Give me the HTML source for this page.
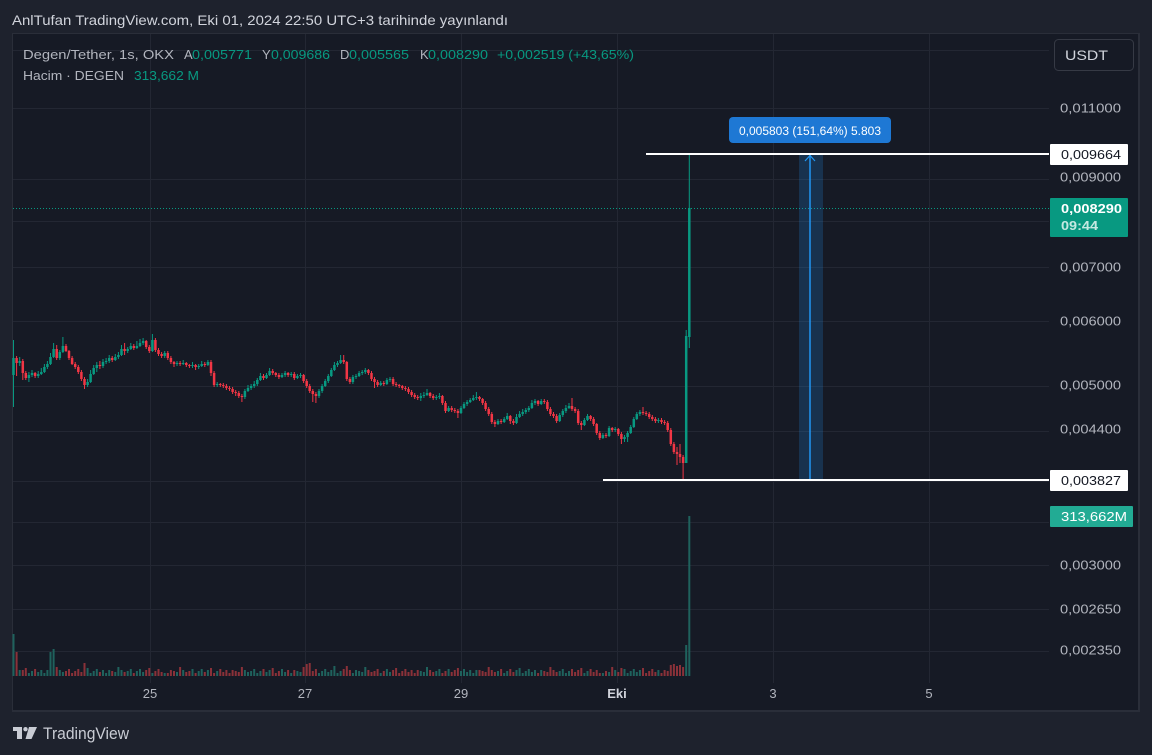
<!DOCTYPE html>
<html><head><meta charset="utf-8">
<style>
html,body{margin:0;padding:0;background:#1e222d;overflow:hidden;}
svg{display:block;}
text{font-family:"Liberation Sans",sans-serif;}
</style></head>
<body>
<svg width="1152" height="755" viewBox="0 0 1152 755" xmlns="http://www.w3.org/2000/svg">
<rect x="0" y="0" width="1152" height="755" fill="#1e222d"/>
<rect x="12" y="33" width="1128" height="679" fill="#2a2e39"/>
<rect x="13" y="34" width="1125" height="676" fill="#161a25"/>
<g stroke="#232733" stroke-width="1">
<line x1="13" y1="50.5" x2="1049" y2="50.5"/>
<line x1="13" y1="108.5" x2="1049" y2="108.5"/>
<line x1="13" y1="179.5" x2="1049" y2="179.5"/>
<line x1="13" y1="221.5" x2="1049" y2="221.5"/>
<line x1="13" y1="267.5" x2="1049" y2="267.5"/>
<line x1="13" y1="321.5" x2="1049" y2="321.5"/>
<line x1="13" y1="386.5" x2="1049" y2="386.5"/>
<line x1="13" y1="431.5" x2="1049" y2="431.5"/>
<line x1="13" y1="481.5" x2="1049" y2="481.5"/>
<line x1="13" y1="522.5" x2="1049" y2="522.5"/>
<line x1="13" y1="565.5" x2="1049" y2="565.5"/>
<line x1="13" y1="609.5" x2="1049" y2="609.5"/>
<line x1="13" y1="651.5" x2="1049" y2="651.5"/>
<line x1="150.5" y1="34" x2="150.5" y2="683"/>
<line x1="305.5" y1="34" x2="305.5" y2="683"/>
<line x1="461.5" y1="34" x2="461.5" y2="683"/>
<line x1="617.5" y1="34" x2="617.5" y2="683"/>
<line x1="773.5" y1="34" x2="773.5" y2="683"/>
<line x1="929.5" y1="34" x2="929.5" y2="683"/>
</g>

<!-- volume -->
<path fill="none" stroke="#1f625d" stroke-width="2" d="M13.5 676V634M19.7 676V670M28.9 676V673M32 676V671M38.2 676V672M41.3 676V670M44.4 676V673M47.4 676V670M50.5 676V652M53.6 676V649M59.8 676V670M62.9 676V672M87.6 676V668M90.6 676V673M93.7 676V671M96.8 676V669M103 676V670M106.1 676V673M109.2 676V670M115.3 676V672M118.4 676V667M121.5 676V670M127.7 676V671M130.8 676V669M136.9 676V671M140 676V669M143.1 676V672M152.4 676V673M164.7 676V673M177 676V672M183.2 676V670M192.5 676V669M198.7 676V671M201.7 676V669M207.9 676V670M217.2 676V671M244.9 676V670M248 676V672M251.1 676V671M254.2 676V669M257.3 676V673M260.4 676V671M266.5 676V672M269.6 676V670M282 676V669M285.1 676V672M291.2 676V673M297.4 676V671M300.5 676V672M319 676V673M322.1 676V671M325.2 676V669M328.3 676V672M331.3 676V670M334.4 676V666M337.5 676V673M340.6 676V671M352.9 676V673M356 676V670M359.1 676V671M362.2 676V672M365.3 676V667M380.7 676V673M386.9 676V669M390 676V672M420.8 676V671M423.9 676V672M427 676V667M436.3 676V671M439.4 676V669M448.6 676V669M461 676V671M464 676V669M467.1 676V672M470.2 676V670M473.3 676V673M476.4 676V670M498 676V671M504.2 676V673M507.2 676V671M516.5 676V670M519.6 676V668M522.7 676V673M525.8 676V671M528.8 676V669M531.9 676V672M535 676V670M541.2 676V670M559.7 676V671M562.8 676V669M565.9 676V673M569 676V671M584.4 676V673M587.5 676V671M602.9 676V673M609.1 676V672M615.2 676V670M624.5 676V669M627.6 676V673M630.7 676V671M633.8 676V669M636.8 676V672M639.9 676V670M658.4 676V670M686.2 676V645M689.3 676V516"/>
<path fill="none" stroke="#8a3139" stroke-width="2" d="M16.6 676V652M22.8 676V670M25.8 676V668M35.1 676V669M56.7 676V667M66 676V671M69 676V669M72.1 676V673M75.2 676V671M78.3 676V669M81.4 676V672M84.5 676V663M99.9 676V672M112.2 676V671M124.6 676V672M133.8 676V673M146.2 676V670M149.3 676V668M155.4 676V671M158.5 676V669M161.6 676V672M167.8 676V673M170.9 676V670M174 676V671M180.1 676V667M186.3 676V672M189.4 676V671M195.6 676V673M204.8 676V672M211 676V668M214.1 676V673M220.3 676V669M223.3 676V672M226.4 676V670M229.5 676V673M232.6 676V670M235.7 676V671M238.8 676V672M241.9 676V667M263.5 676V669M272.7 676V668M275.8 676V673M278.9 676V671M288.1 676V670M294.3 676V670M303.6 676V667M306.7 676V664M309.7 676V663M312.8 676V671M315.9 676V669M343.7 676V669M346.8 676V666M349.9 676V670M368.4 676V670M371.5 676V672M374.5 676V671M377.6 676V669M383.8 676V671M393.1 676V670M396.1 676V668M399.2 676V673M402.3 676V671M405.4 676V669M408.5 676V672M411.6 676V670M414.7 676V673M417.7 676V670M430.1 676V670M433.2 676V672M442.4 676V673M445.5 676V671M451.7 676V672M454.8 676V670M457.9 676V668M479.5 676V670M482.6 676V671M485.6 676V672M488.7 676V667M491.8 676V670M494.9 676V672M501.1 676V669M510.3 676V669M513.4 676V672M538.1 676V673M544.3 676V671M547.4 676V672M550.4 676V667M553.5 676V670M556.6 676V672M572 676V669M575.1 676V672M578.2 676V670M581.3 676V668M590.6 676V669M593.6 676V672M596.7 676V670M599.8 676V673M606 676V671M612.2 676V667M618.3 676V672M621.4 676V668M643 676V668M646.1 676V673M649.2 676V671M652.3 676V669M655.4 676V672M661.5 676V673M664.6 676V670M667.7 676V671M670.8 676V665M673.9 676V664M677 676V666M680 676V665M683.1 676V667"/>

<line x1="13" y1="208.5" x2="1049" y2="208.5" stroke="#089981" stroke-width="1" stroke-dasharray="1,2"/>

<!-- candle wicks -->
<path fill="none" stroke="#089981" stroke-width="1" d="M13.5 340V407M19.7 357V366M28.9 372V382M32 370V377M38.2 371V378M41.3 368V375M44.4 364V373M47.4 361V369M50.5 353V365M53.6 343V358M59.8 350V360M62.9 337V353M87.6 379V387M90.6 370V383M93.7 365V375M96.8 362V372M103 359V368M106.1 358V364M109.2 355V363M115.3 354V361M118.4 352V359M121.5 345V356M127.7 347V353M130.8 343V350M136.9 341V349M140 339V347M143.1 338V345M152.4 334V352M164.7 351V358M177 361V366M183.2 360V365M192.5 362V368M198.7 364V369M201.7 361V367M207.9 360V366M217.2 382V387M244.9 389V399M248 385V392M251.1 384V390M254.2 381V388M257.3 378V386M260.4 373V381M266.5 373V379M269.6 368V376M282 373V378M285.1 371V377M291.2 372V377M297.4 374V379M300.5 373V378M319 389V398M322.1 384V393M325.2 379V387M328.3 374V383M331.3 368V377M334.4 362V371M337.5 361V367M340.6 355V364M352.9 375V384M356 374V379M359.1 371V377M362.2 370V375M365.3 368V374M380.7 381V386M386.9 378V385M390 377V382M420.8 393V401M423.9 392V398M427 389V396M436.3 395V400M439.4 393V399M448.6 406V412M461 406V414M464 402V409M467.1 400V406M470.2 398V403M473.3 395V401M476.4 392V400M498 419V425M504.2 417V423M507.2 413V420M516.5 414V424M519.6 411V418M522.7 409V416M525.8 408V414M528.8 406V412M531.9 400V409M535 399V405M541.2 399V405M559.7 413V422M562.8 409V417M565.9 405V413M569 403V409M584.4 418V426M587.5 414V421M602.9 433V439M609.1 426V437M615.2 427V432M624.5 435V442M627.6 431V442M630.7 425V434M633.8 417V428M636.8 412V420M639.9 410V416M658.4 418V423M686.2 330V463M689.3 153V348"/>
<path fill="none" stroke="#f23645" stroke-width="1" d="M16.6 356V376M22.8 359V380M25.8 371V380M35.1 372V378M56.7 345V360M66 344V352M69 350V360M72.1 356V365M75.2 362V369M78.3 365V374M81.4 370V381M84.5 377V389M99.9 361V369M112.2 356V362M124.6 343V355M133.8 344V350M146.2 340V349M149.3 345V353M155.4 338V352M158.5 348V356M161.6 352V358M167.8 351V360M170.9 356V364M174 361V367M180.1 361V366M186.3 362V367M189.4 364V368M195.6 364V370M204.8 362V367M211 360V376M214.1 371V387M220.3 383V387M223.3 383V388M226.4 384V390M229.5 386V391M232.6 387V394M235.7 390V396M238.8 391V398M241.9 394V402M263.5 374V380M272.7 369V375M275.8 372V377M278.9 373V379M288.1 372V377M294.3 372V380M303.6 374V383M306.7 379V388M309.7 384V393M312.8 389V402M315.9 392V403M343.7 355V364M346.8 361V381M349.9 377V384M368.4 369V375M371.5 371V381M374.5 377V388M377.6 380V387M383.8 381V386M393.1 377V386M396.1 382V387M399.2 384V388M402.3 385V390M405.4 386V391M408.5 387V394M411.6 390V397M414.7 393V399M417.7 395V400M430.1 392V398M433.2 394V400M442.4 395V405M445.5 401V413M451.7 406V412M454.8 408V413M457.9 409V418M479.5 396V401M482.6 398V405M485.6 401V411M488.7 407V416M491.8 412V424M494.9 420V427M501.1 419V424M510.3 415V424M513.4 419V425M538.1 400V406M544.3 399V404M547.4 400V411M550.4 407V416M553.5 412V418M556.6 414V423M572 398V411M575.1 407V413M578.2 409V425M581.3 421V430M590.6 415V421M593.6 417V426M596.7 423V435M599.8 431V440M606 433V438M612.2 427V432M618.3 428V436M621.4 432V444M643 407V415M646.1 411V416M649.2 412V419M652.3 415V421M655.4 417V423M661.5 418V424M664.6 420V425M667.7 421V432M670.8 428V446M673.9 442V454M677 447V465M680 444V463M683.1 455V480"/>

<!-- candle bodies -->
<path fill="none" stroke="#089981" stroke-width="2.5" d="M13.5 358V375M19.7 361V363M28.9 375V378M32 373V375M38.2 374V376M41.3 372V374M44.4 367V372M47.4 364V367M50.5 357V364M53.6 349V357M59.8 352V358M62.9 346V352M87.6 382V385M90.6 374V382M93.7 368V374M96.8 365V368M103 362V366M106.1 361V362M109.2 358V361M115.3 357V360M118.4 355V357M121.5 349V355M127.7 349V351M130.8 346V349M136.9 346V348M140 343V346M143.1 341V343M152.4 340V351M164.7 353V356M177 363V364M183.2 363V364M192.5 365V366M198.7 366V367M201.7 364V366M207.9 362V365M217.2 384V385M244.9 391V397M248 388V391M251.1 386V388M254.2 384V386M257.3 380V384M260.4 376V380M266.5 375V378M269.6 371V375M282 375V377M285.1 373V375M291.2 374V375M297.4 376V378M300.5 375V376M319 391V396M322.1 386V391M325.2 381V386M328.3 376V381M331.3 370V376M334.4 365V370M337.5 363V365M340.6 360V363M352.9 377V382M356 376V377M359.1 373V376M362.2 372V373M365.3 370V372M380.7 383V385M386.9 380V384M390 379V380M420.8 396V398M423.9 395V396M427 393V395M436.3 397V398M439.4 396V397M448.6 408V411M461 408V413M464 404V408M467.1 402V404M470.2 400V402M473.3 398V400M476.4 397V398M498 421V424M504.2 419V422M507.2 416V419M516.5 417V423M519.6 414V417M522.7 412V414M525.8 410V412M528.8 408V410M531.9 403V408M535 401V403M541.2 401V404M559.7 415V421M562.8 411V415M565.9 408V411M569 406V408M584.4 420V425M587.5 416V420M602.9 435V438M609.1 428V436M615.2 429V430M624.5 437V439M627.6 433V437M630.7 427V433M633.8 419V427M636.8 414V419M639.9 412V414M658.4 420V421M686.2 336V463M689.3 208V337"/>
<path fill="none" stroke="#f23645" stroke-width="2.5" d="M16.6 358V363M22.8 361V373M25.8 373V378M35.1 373V376M56.7 349V358M66 346V351M69 351V358M72.1 358V364M75.2 364V367M78.3 367V372M81.4 372V379M84.5 379V385M99.9 365V366M112.2 358V360M124.6 349V351M133.8 346V348M146.2 341V347M149.3 347V351M155.4 340V350M158.5 350V354M161.6 354V356M167.8 353V358M170.9 358V362M174 362V364M180.1 363V364M186.3 363V365M189.4 365V366M195.6 365V367M204.8 364V365M211 362V373M214.1 373V385M220.3 384V385M223.3 385V386M226.4 386V388M229.5 388V389M232.6 389V392M235.7 392V393M238.8 393V396M241.9 396V397M263.5 376V378M272.7 371V373M275.8 373V375M278.9 375V377M288.1 373V375M294.3 374V378M303.6 375V381M306.7 381V386M309.7 386V391M312.8 391V394M315.9 394V396M343.7 360V362M346.8 362V379M349.9 379V382M368.4 370V373M371.5 373V379M374.5 379V382M377.6 382V385M383.8 383V384M393.1 379V384M396.1 384V385M399.2 385V386M402.3 386V388M405.4 388V389M408.5 389V392M411.6 392V395M414.7 395V397M417.7 397V398M430.1 393V396M433.2 396V398M442.4 396V403M445.5 403V411M451.7 408V410M454.8 410V411M457.9 411V413M479.5 397V399M482.6 399V403M485.6 403V409M488.7 409V414M491.8 414V422M494.9 422V424M501.1 421V422M510.3 416V421M513.4 421V423M538.1 401V404M544.3 401V402M547.4 402V409M550.4 409V414M553.5 414V416M556.6 416V421M572 406V409M575.1 409V411M578.2 411V423M581.3 423V425M590.6 416V419M593.6 419V424M596.7 424V433M599.8 433V438M606 435V436M612.2 428V430M618.3 429V434M621.4 434V439M643 412V413M646.1 413V414M649.2 414V417M652.3 417V419M655.4 419V421M661.5 420V422M664.6 422V423M667.7 423V430M670.8 430V444M673.9 444V452M677 452V454M680 454V457M683.1 457V463"/>

<!-- measurement -->
<rect x="799" y="154" width="24" height="326" fill="rgba(33,150,243,0.2)"/>
<line x1="810" y1="155" x2="810" y2="480" stroke="#2196f3" stroke-width="1.5"/>
<polyline points="805,161 810,155.5 815,161" fill="none" stroke="#2196f3" stroke-width="1.2"/>
<line x1="799" y1="480" x2="823" y2="480" stroke="#2196f3" stroke-width="2"/>
<rect x="646" y="153" width="403" height="2" fill="#ffffff"/>
<rect x="603" y="479" width="446" height="2" fill="#ffffff"/>
<rect x="729" y="117" width="162" height="26" rx="4" fill="#1e78d4"/>
<text x="739" y="135" font-size="11.5" fill="#ffffff" textLength="142" lengthAdjust="spacingAndGlyphs">0,005803 (151,64%) 5.803</text>

<!-- header -->
<text x="12" y="25" font-size="14" fill="#d1d4dc" textLength="496" lengthAdjust="spacingAndGlyphs">AnlTufan TradingView.com, Eki 01, 2024 22:50 UTC+3 tarihinde yayınlandı</text>

<!-- legend -->
<g font-size="13">
<text x="23" y="59" fill="#b2b5be" textLength="151" lengthAdjust="spacingAndGlyphs">Degen/Tether, 1s, OKX</text>
<text x="184" y="59" fill="#b2b5be">A</text>
<text x="192" y="59" fill="#089981" textLength="60" lengthAdjust="spacingAndGlyphs">0,005771</text>
<text x="262" y="59" fill="#b2b5be">Y</text>
<text x="271" y="59" fill="#089981" textLength="59" lengthAdjust="spacingAndGlyphs">0,009686</text>
<text x="340" y="59" fill="#b2b5be">D</text>
<text x="349" y="59" fill="#089981" textLength="60" lengthAdjust="spacingAndGlyphs">0,005565</text>
<text x="420" y="59" fill="#b2b5be">K</text>
<text x="428" y="59" fill="#089981" textLength="60" lengthAdjust="spacingAndGlyphs">0,008290</text>
<text x="497" y="59" fill="#089981" textLength="137" lengthAdjust="spacingAndGlyphs">+0,002519 (+43,65%)</text>
<text x="23" y="80" fill="#b2b5be" textLength="101" lengthAdjust="spacingAndGlyphs">Hacim · DEGEN</text>
<text x="134" y="80" fill="#089981" textLength="65" lengthAdjust="spacingAndGlyphs">313,662 M</text>
</g>

<!-- USDT button -->
<rect x="1054.5" y="39.5" width="79" height="31" rx="4" fill="#161a25" stroke="#363a45" stroke-width="1"/>
<text x="1065" y="60" font-size="14" fill="#d1d4dc" textLength="43" lengthAdjust="spacingAndGlyphs">USDT</text>

<!-- price axis labels -->
<g font-size="13" fill="#b2b5be">
<text x="1060" y="112.5" textLength="61" lengthAdjust="spacingAndGlyphs">0,011000</text>
<text x="1060" y="181.5" textLength="61" lengthAdjust="spacingAndGlyphs">0,009000</text>
<text x="1060" y="271.5" textLength="61" lengthAdjust="spacingAndGlyphs">0,007000</text>
<text x="1060" y="325.5" textLength="61" lengthAdjust="spacingAndGlyphs">0,006000</text>
<text x="1060" y="389.5" textLength="61" lengthAdjust="spacingAndGlyphs">0,005000</text>
<text x="1060" y="433.5" textLength="61" lengthAdjust="spacingAndGlyphs">0,004400</text>
<text x="1060" y="569.5" textLength="61" lengthAdjust="spacingAndGlyphs">0,003000</text>
<text x="1060" y="613.5" textLength="61" lengthAdjust="spacingAndGlyphs">0,002650</text>
<text x="1060" y="654.5" textLength="61" lengthAdjust="spacingAndGlyphs">0,002350</text>
</g>

<rect x="1050" y="144" width="78" height="21" rx="1" fill="#ffffff"/>
<text x="1061" y="159" font-size="13" fill="#131722" textLength="60" lengthAdjust="spacingAndGlyphs">0,009664</text>
<rect x="1050" y="198" width="78" height="39" rx="1" fill="#089981"/>
<text x="1061" y="213" font-size="13" font-weight="bold" fill="#ffffff" textLength="61" lengthAdjust="spacingAndGlyphs">0,008290</text>
<text x="1061" y="230" font-size="13" font-weight="bold" fill="#c4e8e1" textLength="37" lengthAdjust="spacingAndGlyphs">09:44</text>
<rect x="1050" y="470" width="78" height="21" rx="1" fill="#ffffff"/>
<text x="1061" y="485" font-size="13" fill="#131722" textLength="60" lengthAdjust="spacingAndGlyphs">0,003827</text>
<rect x="1050" y="506" width="83" height="21" rx="1" fill="#22ab94"/>
<text x="1061" y="521" font-size="13" fill="#ffffff" textLength="66" lengthAdjust="spacingAndGlyphs">313,662M</text>

<!-- time axis -->
<g font-size="13" fill="#b2b5be" text-anchor="middle">
<text x="150" y="698">25</text>
<text x="305" y="698">27</text>
<text x="461" y="698">29</text>
<text x="617" y="698" font-weight="bold" fill="#d1d4dc">Eki</text>
<text x="773" y="698">3</text>
<text x="929" y="698">5</text>
</g>

<!-- TradingView logo -->
<g fill="#c9ccd4">
<rect x="13" y="727" width="9" height="4"/>
<rect x="17" y="727" width="5" height="12"/>
<circle cx="25.5" cy="729.2" r="2.2"/>
<polygon points="29,727 37,727 31.5,739 25.5,739"/>
</g>
<text x="43" y="739" font-size="17" fill="#c9ccd4" textLength="86" lengthAdjust="spacingAndGlyphs">TradingView</text>
</svg>
</body></html>
